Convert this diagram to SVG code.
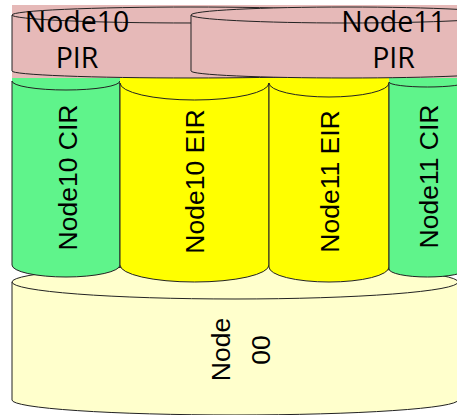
<svg xmlns="http://www.w3.org/2000/svg" width="457" height="415" viewBox="0 0 457 415">
<style>
.ln{stroke:#222;stroke-width:1;fill:none}
.sh{stroke:#222;stroke-width:1}
.pink{fill:#e6b9b8}
.green{fill:#5ff48b}
.yellow{fill:#ffff00}
.cream{fill:#ffffcc}
.vt{font-family:"Liberation Sans",Arial,sans-serif;font-size:26.5px;fill:#000;text-anchor:middle}
.ht{font-family:"Open Sans","Noto Sans",sans-serif;font-size:28.5px;fill:#000;text-anchor:middle}
</style>
<rect width="457" height="415" fill="#fff"/>
<g id="node00">
<path class="sh cream" d="M12,282 L12,400 A223,15 0 0 0 458,400 L458,282 A223,17 0 0 0 12,282 Z"/>
<path class="ln" d="M12,282 A223,17 0 0 0 458,282"/>
<text class="vt" transform="translate(230,349.5) rotate(-90)">Node</text>
<text class="vt" transform="translate(270,350) rotate(-90)">00</text>
</g>
<g id="node10-cir">
<path class="green" d="M12,78 L12,265 A54,12 0 0 0 120,265 L120,78 Z"/>
<path class="ln" d="M12,81 L12,265 A54,12 0 0 0 120,265 L120,81 M12,81 A54,9 0 0 0 120,81"/>
<text class="vt" transform="translate(77,177.5) rotate(-90)">Node10 CIR</text>
</g>
<g id="node10-eir">
<path class="yellow" d="M120,78 L120,265 A74.5,17 0 0 0 269,265 L269,78 Z"/>
<path class="ln" d="M120,83 L120,265 A74.5,17 0 0 0 269,265 L269,83 M120,83 A74.5,17 0 0 0 269,83"/>
<text class="vt" transform="translate(204,181.5) rotate(-90)">Node10 EIR</text>
</g>
<g id="node11-eir">
<path class="yellow" d="M269,78 L269,267 A60,15 0 0 0 389,267 L389,78 Z"/>
<path class="ln" d="M269,83 L269,267 A60,15 0 0 0 389,267 L389,83 M269,83 A60,14 0 0 0 389,83"/>
<text class="vt" transform="translate(339,181.5) rotate(-90)">Node11 EIR</text>
</g>
<g id="node11-cir">
<path class="green" d="M389,78 L389,269 A38.5,8 0 0 0 466,269 L466,78 Z"/>
<path class="ln" d="M389,82 L389,269 A38.5,8 0 0 0 466,269 L466,82 M389,82 A38.5,5 0 0 0 466,82"/>
<text class="vt" transform="translate(438,176.5) rotate(-90)">Node11 CIR</text>
</g>
<rect id="pir-band" class="pink" x="12" y="5" width="445" height="73"/>
<g id="node10-pir">
<path class="sh pink" d="M12,15 L12,71 A179,7 0 0 0 370,71 L370,15 A179,8 0 0 0 12,15 Z"/>
<path class="ln" d="M12,15 A179,8 0 0 0 370,15"/>
</g>
<g id="node11-pir">
<path class="sh pink" d="M191,15 L191,71 A156,7 0 0 0 503,71 L503,15 A156,8 0 0 0 191,15 Z"/>
<path class="ln" d="M191,15 A156,8 0 0 0 503,15"/>
</g>
<g id="pir-labels">
<text class="ht" x="77" y="32">Node10</text>
<text class="ht" x="77" y="68">PIR</text>
<text class="ht" x="393.5" y="32">Node11</text>
<text class="ht" x="393.5" y="68">PIR</text>
</g>
<g id="connectors"/>
</svg>
